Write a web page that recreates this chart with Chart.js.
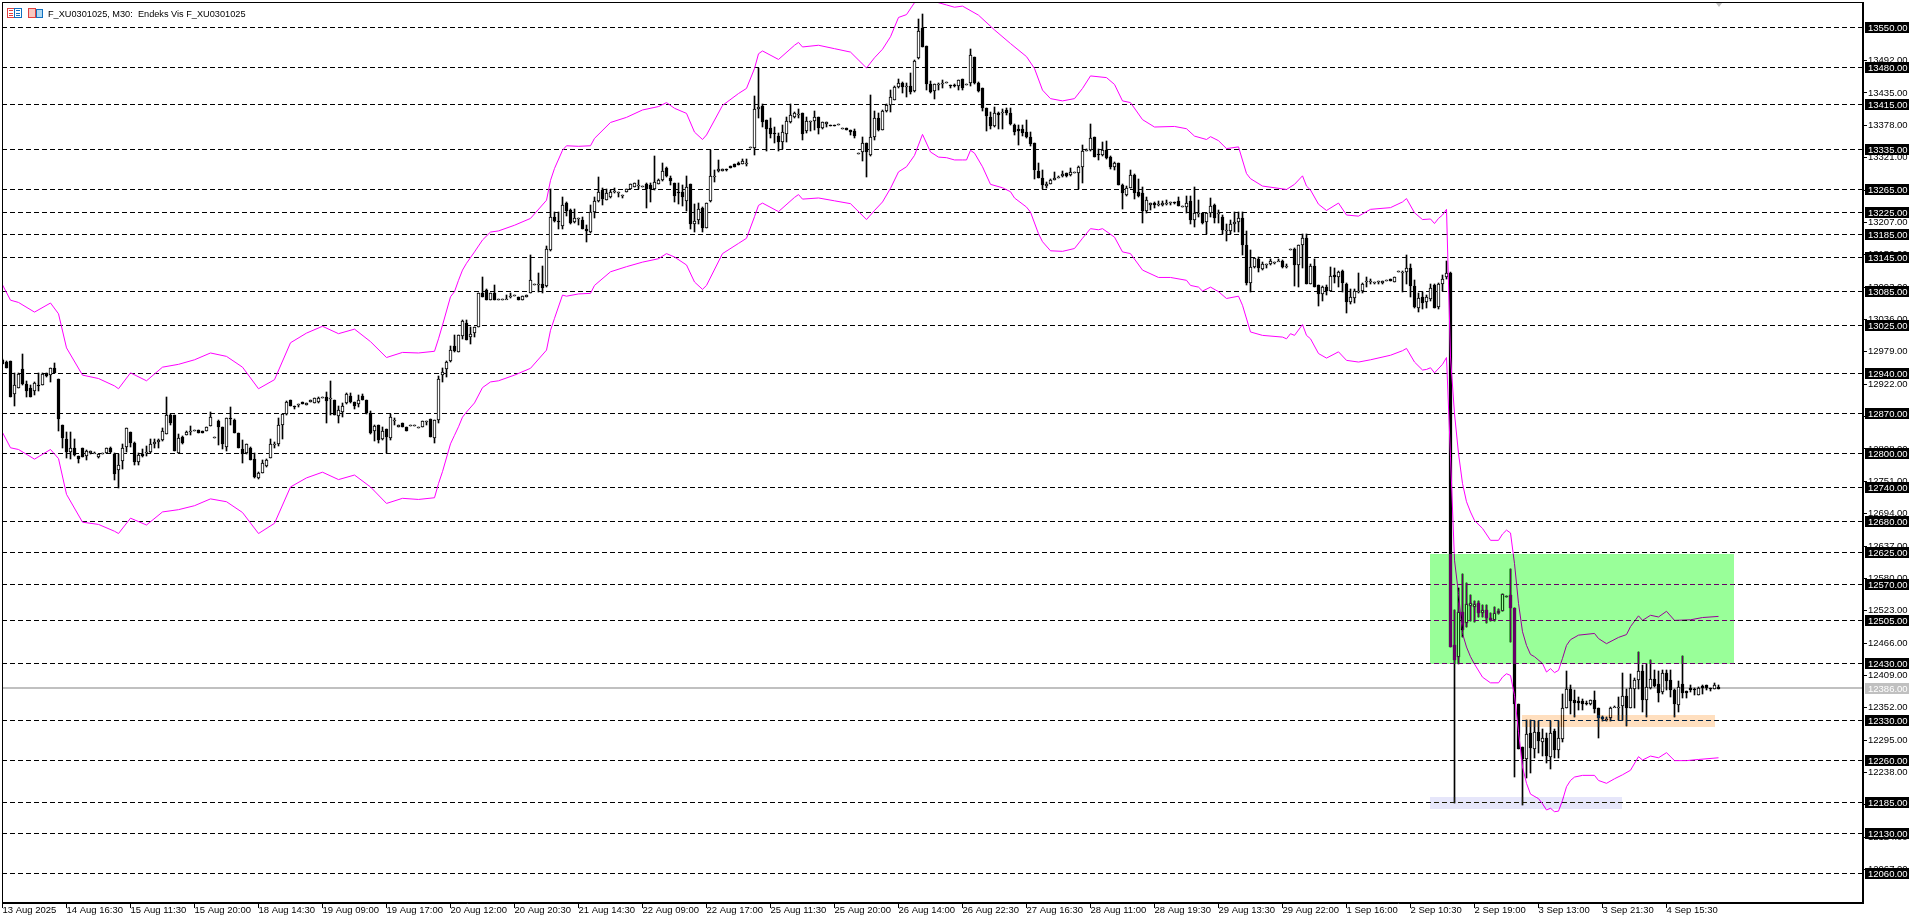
<!DOCTYPE html>
<html>
<head>
<meta charset="utf-8">
<title>F_XU0301025, M30</title>
<script src="https://cdn.jsdelivr.net/npm/chart.js@4"></script>
<style>
  html, body { margin: 0; padding: 0; background: #fff; overflow: hidden; }
  canvas { display: block; }
</style>
</head>
<body>
<canvas id="chart" width="1920" height="923"></canvas>
<script>
const chartTitle = 'F_XU0301025, M30:  Endeks Vis F_XU0301025';

// one label every 16 bars
const timeLabels = ['13 Aug 2025','14 Aug 16:30','15 Aug 11:30','15 Aug 20:00','18 Aug 14:30','19 Aug 09:00','19 Aug 17:00','20 Aug 12:00','20 Aug 20:30','21 Aug 14:30','22 Aug 09:00','22 Aug 17:00','25 Aug 11:30','25 Aug 20:00','26 Aug 14:00','26 Aug 22:30','27 Aug 16:30','28 Aug 11:00','28 Aug 19:30','29 Aug 13:30','29 Aug 22:00','1 Sep 16:00','2 Sep 10:30','2 Sep 19:00','3 Sep 13:00','3 Sep 21:30','4 Sep 15:30'];

const priceTicks = [13492,13435,13378,13321,13264,13207,13150,13093,13036,12979,12922,12865,12808,12751,12694,12637,12580,12523,12466,12409,12352,12295,12238,12181,12124,12067];
const levels = [13550,13480,13415,13335,13265,13225,13185,13145,13085,13025,12940,12870,12800,12740,12680,12625,12570,12505,12430,12330,12260,12185,12130,12060];
const lastPrice = 12386;

const opens = [
12965,12961,12963,12905,12916,12948,12923,12915,12910,12921,
12921,12941,12938,12950,12932,12851,12825,12802,12810,12795,
12809,12796,12800,12801,12793,12800,12800,12809,12799,12770,
12787,12811,12837,12818,12785,12799,12803,12803,12817,12821,
12823,12835,12867,12867,12800,12829,12833,12839,12842,12842,
12839,12840,12849,12829,12857,12847,12812,12863,12859,12836,
12807,12800,12810,12791,12756,12766,12778,12792,12816,12816,
12850,12869,12894,12883,12888,12890,12886,12891,12889,12890,
12900,12900,12897,12895,12866,12873,12889,12901,12890,12887,
12902,12894,12871,12839,12851,12825,12843,12827,12859,12846,
12853,12846,12851,12851,12847,12846,12857,12860,12827,12859,
12938,12949,12962,12990,12979,13007,13030,13005,13012,13023,
13083,13088,13070,13082,13072,13072,13072,13078,13079,13076,
13071,13076,13082,13099,13098,13099,13095,13159,13217,13210,
13201,13241,13228,13208,13214,13212,13195,13190,13226,13244,
13264,13247,13251,13263,13261,13255,13261,13265,13270,13273,
13271,13274,13272,13265,13275,13281,13302,13286,13277,13261,
13261,13245,13275,13205,13211,13233,13198,13244,13289,13297,
13298,13301,13307,13309,13311,13310,13312,13339,13338,13406,
13412,13388,13374,13364,13360,13348,13363,13384,13392,13398,
13399,13368,13386,13386,13392,13373,13381,13379,13379,13380,
13374,13374,13369,13368,13330,13331,13346,13325,13357,13390,
13370,13403,13414,13423,13445,13453,13445,13448,13438,13497,
13549,13517,13451,13438,13450,13452,13452,13449,13449,13447,
13459,13450,13453,13498,13453,13443,13408,13392,13377,13399,
13399,13405,13399,13379,13371,13371,13366,13357,13346,13297,
13286,13271,13275,13282,13287,13289,13294,13290,13295,13294,
13304,13334,13334,13357,13327,13325,13335,13322,13305,13311,
13273,13256,13268,13290,13260,13258,13227,13237,13241,13240,
13238,13241,13243,13243,13244,13236,13234,13244,13211,13223,
13223,13207,13224,13238,13224,13216,13193,13191,13204,13208,
13214,13168,13101,13129,13143,13125,13134,13133,13138,13139,
13139,13130,13161,13161,13132,13168,13179,13099,13131,13096,
13080,13094,13087,13115,13111,13122,13099,13066,13074,13086,
13086,13104,13104,13102,13103,13100,13106,13107,13102,13121,
13119,13120,13126,13095,13056,13075,13066,13072,13096,13058,
13099,13110,13118,12462,12441,12521,12502,12531,12529,12536,
12519,12525,12511,12506,12519,12523,12549,12550,12527,12359,
12283,12261,12307,12280,12309,12291,12298,12266,12311,12277,
12297,12352,12385,12365,12364,12364,12361,12358,12365,12351,
12336,12333,12334,12354,12354,12355,12372,12352,12385,12401,
12416,12365,12387,12402,12394,12380,12413,12401,12383,12357,
12394,12381,12387,12386,12374,12390,12392,12387,12386,12388];

const highs = [
12967,12963,12963,12941,12941,12975,12928,12920,12925,12941,
12941,12942,12951,12960,12932,12851,12837,12837,12825,12796,
12809,12806,12805,12802,12799,12800,12809,12812,12800,12799,
12817,12844,12837,12821,12800,12807,12814,12825,12826,12826,
12844,12900,12870,12867,12835,12831,12839,12848,12842,12842,
12839,12847,12873,12829,12859,12847,12862,12882,12860,12836,
12823,12816,12812,12800,12767,12788,12790,12825,12821,12862,
12870,12893,12895,12883,12888,12890,12889,12895,12898,12900,
12900,12908,12927,12895,12884,12889,12906,12906,12891,12903,
12904,12895,12874,12850,12851,12847,12843,12869,12862,12851,
12853,12846,12851,12851,12847,12857,12857,12860,12859,12937,
12950,12963,12989,13009,13009,13035,13035,13023,13023,13082,
13111,13089,13083,13096,13072,13072,13079,13083,13079,13076,
13077,13079,13150,13099,13117,13130,13165,13265,13226,13226,
13252,13243,13230,13230,13214,13216,13202,13237,13252,13287,
13267,13265,13264,13267,13261,13255,13266,13274,13277,13281,
13271,13277,13277,13324,13283,13311,13304,13289,13277,13277,
13273,13289,13275,13239,13242,13234,13242,13335,13299,13317,
13301,13301,13307,13309,13314,13318,13318,13339,13430,13479,
13415,13388,13390,13375,13364,13378,13393,13415,13402,13407,
13400,13393,13386,13403,13393,13384,13384,13379,13379,13380,
13374,13374,13369,13371,13330,13357,13346,13431,13403,13399,
13405,13416,13440,13448,13460,13455,13452,13470,13493,13566,
13574,13517,13456,13450,13452,13457,13455,13449,13450,13457,
13459,13450,13512,13498,13454,13443,13409,13402,13410,13402,
13407,13408,13408,13380,13378,13378,13387,13366,13346,13312,
13299,13278,13283,13295,13289,13298,13294,13302,13295,13306,
13343,13337,13380,13357,13337,13349,13350,13324,13314,13312,
13274,13271,13299,13292,13283,13270,13252,13242,13243,13244,
13244,13246,13243,13243,13251,13236,13253,13253,13270,13246,
13224,13224,13250,13239,13228,13220,13205,13212,13225,13225,
13225,13192,13159,13145,13146,13137,13134,13142,13138,13142,
13140,13134,13161,13162,13168,13186,13186,13133,13142,13097,
13095,13096,13129,13126,13121,13124,13100,13090,13089,13117,
13100,13111,13107,13102,13103,13104,13106,13107,13110,13121,
13121,13149,13133,13106,13082,13085,13079,13099,13098,13100,
13114,13139,13120,12525,12563,12587,12571,12550,12540,12540,
12533,12533,12519,12530,12526,12553,12549,12596,12527,12359,
12283,12330,12330,12329,12329,12315,12307,12329,12314,12329,
12376,12417,12393,12383,12371,12367,12364,12366,12381,12352,
12337,12336,12353,12355,12371,12414,12386,12411,12404,12450,
12427,12430,12436,12418,12416,12419,12419,12419,12385,12399,
12444,12381,12392,12387,12388,12392,12393,12387,12395,12393];

const lows = [
12958,12951,12900,12884,12916,12920,12900,12900,12903,12910,
12921,12935,12926,12941,12840,12810,12792,12790,12795,12783,
12793,12788,12799,12800,12792,12800,12800,12800,12753,12740,
12772,12803,12812,12779,12779,12794,12796,12801,12810,12810,
12822,12834,12851,12804,12800,12817,12833,12833,12842,12836,
12836,12840,12849,12829,12815,12807,12804,12851,12836,12809,
12784,12799,12788,12757,12755,12766,12776,12792,12809,12814,
12825,12867,12883,12879,12881,12887,12886,12891,12889,12889,
12900,12854,12867,12867,12854,12864,12888,12889,12878,12882,
12894,12870,12834,12822,12819,12823,12800,12824,12850,12846,
12846,12839,12851,12851,12847,12846,12850,12829,12819,12854,
12926,12934,12961,12979,12979,13002,13000,12993,13005,13023,
13075,13070,13070,13070,13072,13072,13072,13073,13079,13070,
13071,13076,13082,13099,13084,13083,13093,13157,13207,13195,
13195,13218,13204,13206,13202,13195,13173,13189,13215,13243,
13237,13246,13250,13258,13251,13250,13261,13265,13270,13265,
13271,13233,13243,13264,13275,13280,13287,13272,13243,13239,
13235,13227,13196,13190,13205,13190,13197,13243,13278,13296,
13298,13297,13303,13305,13308,13310,13307,13339,13325,13391,
13375,13333,13355,13346,13333,13337,13349,13382,13390,13390,
13353,13365,13368,13369,13362,13371,13375,13376,13376,13378,
13374,13369,13361,13355,13330,13315,13287,13324,13353,13368,
13369,13402,13401,13422,13443,13435,13428,13433,13437,13494,
13516,13441,13435,13425,13441,13444,13452,13444,13445,13440,
13440,13450,13448,13451,13437,13403,13368,13371,13375,13372,
13371,13396,13378,13361,13344,13359,13355,13342,13284,13285,
13265,13268,13274,13281,13285,13287,13287,13289,13295,13265,
13277,13333,13333,13322,13317,13324,13319,13301,13300,13272,
13231,13253,13267,13249,13252,13206,13224,13228,13233,13235,
13235,13237,13237,13239,13235,13236,13224,13204,13199,13217,
13205,13186,13216,13206,13206,13186,13174,13187,13190,13190,
13149,13096,13085,13127,13120,13124,13127,13132,13133,13139,
13126,13126,13161,13095,13093,13126,13099,13098,13093,13060,
13069,13079,13086,13100,13093,13085,13048,13064,13065,13082,
13082,13093,13099,13099,13099,13099,13103,13103,13102,13121,
13085,13098,13075,13057,13049,13054,13057,13069,13056,13054,
13086,13108,12459,12184,12430,12476,12494,12505,12503,12512,
12512,12502,12505,12505,12518,12522,12549,12468,12230,12280,
12180,12229,12238,12264,12272,12268,12254,12245,12263,12263,
12292,12351,12341,12336,12348,12348,12357,12357,12342,12299,
12329,12329,12329,12353,12330,12330,12320,12351,12351,12385,
12344,12335,12385,12388,12363,12377,12384,12371,12336,12344,
12370,12370,12380,12374,12374,12376,12384,12381,12385,12385];

const closes = [
12958,12951,12900,12921,12940,12923,12910,12900,12924,12920,
12940,12936,12950,12941,12861,12827,12802,12810,12798,12790,
12794,12805,12805,12801,12799,12800,12809,12802,12764,12779,
12810,12844,12818,12785,12797,12796,12803,12816,12821,12824,
12840,12867,12854,12805,12828,12819,12838,12839,12842,12836,
12836,12847,12864,12829,12847,12817,12862,12861,12836,12810,
12799,12816,12789,12758,12766,12784,12789,12816,12816,12851,
12870,12890,12884,12881,12888,12887,12889,12895,12898,12897,
12900,12893,12897,12867,12876,12884,12904,12891,12884,12895,
12895,12871,12836,12848,12823,12840,12829,12865,12859,12851,
12846,12839,12851,12851,12847,12857,12857,12829,12859,12932,
12943,12961,12983,12980,13009,13034,13000,13010,13022,13082,
13075,13070,13083,13070,13072,13072,13072,13078,13079,13070,
13077,13079,13106,13099,13098,13092,13161,13216,13210,13209,
13238,13227,13206,13215,13214,13196,13191,13226,13245,13260,
13248,13259,13260,13263,13261,13255,13266,13274,13277,13273,
13271,13265,13265,13278,13282,13297,13289,13280,13254,13259,
13251,13270,13204,13209,13231,13198,13242,13289,13289,13301,
13301,13299,13303,13305,13308,13316,13312,13339,13406,13411,
13384,13371,13362,13362,13348,13367,13385,13397,13399,13398,
13362,13386,13386,13392,13373,13383,13384,13376,13376,13380,
13374,13369,13366,13359,13330,13346,13331,13357,13390,13370,
13403,13413,13428,13446,13452,13445,13448,13437,13492,13545,
13516,13450,13436,13450,13450,13452,13455,13447,13447,13457,
13443,13450,13502,13452,13439,13408,13394,13376,13400,13397,
13402,13399,13380,13366,13368,13365,13357,13345,13299,13285,
13272,13275,13281,13286,13287,13292,13288,13295,13295,13305,
13332,13334,13356,13322,13325,13335,13321,13304,13311,13273,
13259,13268,13291,13259,13253,13227,13246,13241,13237,13240,
13242,13241,13243,13241,13235,13236,13242,13211,13224,13223,
13206,13223,13235,13215,13224,13193,13193,13205,13208,13214,
13167,13100,13129,13144,13127,13134,13134,13139,13138,13139,
13129,13130,13161,13132,13167,13179,13099,13131,13093,13080,
13093,13086,13113,13111,13119,13101,13066,13075,13087,13086,
13099,13104,13104,13102,13103,13104,13106,13103,13110,13121,
13119,13126,13095,13058,13073,13065,13075,13092,13057,13098,
13108,13117,12459,12437,12521,12489,12534,12536,12534,12519,
12525,12510,12506,12519,12523,12553,12549,12527,12359,12280,
12261,12306,12282,12310,12294,12298,12268,12307,12277,12298,
12352,12386,12364,12361,12361,12358,12358,12365,12350,12334,
12332,12333,12352,12354,12354,12372,12352,12387,12401,12416,
12366,12389,12403,12391,12378,12413,12400,12384,12359,12389,
12378,12378,12384,12383,12387,12387,12387,12385,12393,12386];

// envelope lines, read at the listed bar numbers
const upperBars = [0,2,4,8,12,14,16,20,24,28,29,32,36,40,44,48,52,56,60,64,68,72,76,80,84,88,92,96,100,104,108,109,110,112,113,114,115,116,118,120,122,124,128,132,136,137,138,140,141,144,147,148,152,156,160,164,166,168,171,173,175,176,180,184,186,188,189,190,194,198,199,200,204,208,212,216,218,220,222,224,226,228,230,232,234,236,238,240,244,248,252,256,258,260,262,265,268,270,272,276,278,280,282,285,288,293,296,298,301,302,304,306,309,311,312,315,321,323,325,326,327,329,331,334,336,339,342,347,350,351,353,355,357,358,359,360,361,362,363,364,365,366,367,368,370,372,374,375,376,377,378,379,380,381,382,383,385,386,387,388,389,390,391,392,394,398,399,401,404,406,407,409,410,412,414,416,418,422,425,429];
const upperVals = [13097,13070,13066,13049,13065,13046,12986,12938,12932,12919,12914,12942,12928,12952,12957,12965,12977,12971,12952,12914,12930,12995,13012,13024,13011,13019,12997,12969,12978,12977,12980,13002,13026,13076,13085,13105,13123,13135,13155,13176,13190,13192,13202,13214,13246,13281,13302,13334,13342,13341,13342,13355,13383,13392,13405,13411,13418,13408,13399,13366,13353,13361,13413,13434,13443,13478,13504,13509,13494,13519,13524,13516,13519,13513,13507,13479,13497,13512,13534,13568,13573,13594,13628,13601,13594,13590,13586,13588,13572,13546,13522,13499,13478,13440,13425,13421,13425,13443,13465,13462,13450,13421,13418,13388,13375,13376,13372,13359,13353,13358,13351,13337,13340,13293,13284,13271,13265,13274,13289,13271,13264,13239,13228,13241,13220,13218,13230,13233,13243,13249,13224,13212,13213,13205,13214,13220,13230,12970,12870,12800,12747,12715,12697,12682,12668,12647,12647,12658,12665,12660,12606,12536,12486,12462,12446,12442,12430,12415,12421,12414,12418,12439,12462,12472,12480,12483,12474,12465,12476,12481,12495,12514,12506,12515,12512,12522,12506,12507,12511,12513];

const lowerBars = [0,2,4,8,12,14,16,20,24,28,29,32,36,40,44,48,52,56,60,64,68,72,76,80,84,88,92,96,100,104,108,109,110,112,113,114,115,116,118,120,122,124,128,132,136,137,138,140,141,144,147,148,152,156,160,164,166,168,171,173,175,176,180,184,186,188,189,190,194,198,199,200,204,208,212,216,218,220,222,224,226,228,230,232,234,236,238,240,241,242,243,245,247,250,252,253,256,257,259,260,262,265,268,270,272,274,275,278,280,282,285,289,292,296,297,299,300,302,304,306,309,310,312,315,320,321,322,323,325,326,327,329,331,334,336,339,342,347,350,351,353,355,356,357,358,360,361,362,363,364,365,366,367,368,370,372,374,375,376,377,378,379,380,381,382,384,385,386,387,388,389,390,391,392,393,395,398,399,401,403,405,407,409,410,412,414,416,418,421,424,429];
const lowerVals = [12837,12810,12807,12790,12807,12791,12728,12679,12675,12663,12659,12686,12674,12697,12701,12708,12720,12715,12696,12659,12677,12741,12757,12767,12754,12762,12741,12712,12721,12719,12722,12747,12768,12817,12832,12847,12864,12873,12889,12916,12926,12928,12938,12950,12982,13017,13038,13079,13077,13081,13082,13096,13120,13129,13137,13143,13152,13146,13132,13102,13089,13096,13152,13170,13179,13217,13237,13241,13226,13251,13256,13248,13250,13245,13240,13212,13228,13243,13267,13296,13305,13325,13362,13331,13322,13321,13317,13317,13317,13334,13329,13305,13274,13268,13261,13250,13234,13225,13187,13173,13157,13156,13161,13179,13196,13194,13196,13181,13155,13152,13123,13110,13110,13105,13096,13093,13086,13093,13085,13073,13077,13061,13014,13008,13005,13002,13011,13008,13027,13008,13002,12976,12968,12979,12964,12961,12965,12973,12981,12985,12961,12947,12948,12951,12942,12957,12969,12794,12612,12553,12483,12459,12442,12429,12406,12396,12396,12406,12412,12409,12374,12310,12248,12219,12200,12192,12183,12172,12175,12169,12170,12189,12213,12224,12230,12233,12233,12224,12219,12227,12234,12242,12266,12260,12267,12264,12273,12259,12259,12261,12264];

// the three shaded zones: first bar, last bar, top price, bottom price
const zoneStart = [356.9, 379.9, 356.9];
const zoneEnd = [432.9, 428, 404.9];
const zoneTop = [12623, 12339, 12195];
const zoneBottom = [12430, 12318, 12174];
const zoneInk = ['#660066', '#002040', '#191905'];

const xMin = -0.125, xMax = 465.125;
const yMax = 13595.2, yMin = 12008.2;
const axisFamily = '"Liberation Sans", sans-serif';
const numFont = '9.5px ' + axisFamily;

const wickData = highs.map((h, i) => ({ x: i, y: [lows[i], h] }));
const bodyData = opens.map((o, i) => ({ x: i, y: [o, closes[i]] }));
const bodyFill = opens.map((o, i) => closes[i] >= o ? '#ffffff' : '#000000');

const levelSets = levels.map(v => ({
    type: 'line',
    data: [{ x: xMin, y: v }, { x: xMax, y: v }],
    borderColor: '#000000',
    borderWidth: 1,
    borderDash: [5, 3],
    pointRadius: 0,
    order: 10,
    snapLine: 0.5
}));

function noAxisPadding(s) {
    s.paddingLeft = s.paddingRight = s.paddingTop = s.paddingBottom = 0;
}

// rounds marks to whole pixels so they stay sharp like the original
const snapPlugin = {
    id: 'snap',
    afterDatasetsUpdate(chart) {
        chart.data.datasets.forEach((ds, n) => {
            const meta = chart.getDatasetMeta(n);
            if (meta.type === 'bar') {
                meta.data.forEach(el => {
                    const top = Math.round(Math.min(el.y, el.base));
                    let bottom = Math.round(Math.max(el.y, el.base));
                    if (bottom <= top) bottom = top + 1;
                    el.y = top;
                    el.base = bottom;
                    el.height = bottom - top;
                });
            } else if (ds.snapLine !== undefined) {
                meta.data.forEach(p => { p.y = Math.floor(p.y) + ds.snapLine; });
            }
        });
    }
};

const paperPlugin = {
    id: 'paper',
    beforeDraw(chart) {
        const c = chart.ctx;
        c.save();
        c.fillStyle = '#ffffff';
        c.fillRect(0, 0, chart.width, chart.height);
        c.restore();
    },
    afterDatasetsDraw(chart) {
        // zones invert what lies under them, like the terminal does
        const c = chart.ctx, sx = chart.scales.x, sy = chart.scales.y;
        c.save();
        c.globalCompositeOperation = 'difference';
        zoneInk.forEach((ink, i) => {
            const x0 = Math.round(sx.getPixelForValue(zoneStart[i]));
            const x1 = Math.round(sx.getPixelForValue(zoneEnd[i]));
            const y0 = Math.round(sy.getPixelForValue(zoneTop[i]));
            const y1 = Math.round(sy.getPixelForValue(zoneBottom[i]));
            c.fillStyle = ink;
            c.fillRect(x0, y0, x1 - x0, y1 - y0);
        });
        c.restore();
    },
    afterDraw(chart) {
        const c = chart.ctx, sy = chart.scales.y, sx = chart.scales.x;
        c.save();
        // frame
        c.strokeStyle = '#000000';
        c.lineWidth = 1;
        c.strokeRect(2.5, 2.5, 1860, 900);

        // price boxes on the axis
        c.font = numFont;
        c.textBaseline = 'middle';
        c.textAlign = 'left';
        levels.concat([lastPrice]).forEach(v => {
            const y = Math.floor(sy.getPixelForValue(v));
            c.fillStyle = v === lastPrice ? '#c0c0c0' : '#000000';
            c.fillRect(1865, y - 5, 44, 11);
            c.fillStyle = '#ffffff';
            c.fillText(v.toFixed(2), 1868, y + 1);
        });

        // title and the two little window icons
        c.fillStyle = '#000000';
        c.font = '9.2px ' + axisFamily;
        c.fillText(chartTitle, 48, 14);
        c.strokeStyle = '#e04040';
        c.strokeRect(7.5, 8.5, 7, 9);
        c.strokeRect(28.5, 8.5, 7, 9);
        c.strokeStyle = '#1070c0';
        c.strokeRect(14.5, 8.5, 7, 9);
        c.strokeRect(36.5, 9.5, 6, 8);
        c.fillStyle = '#e04040';
        c.fillRect(9, 10, 4, 1); c.fillRect(9, 13, 4, 1); c.fillRect(9, 15, 4, 1);
        c.fillStyle = '#1070c0';
        c.fillRect(16, 10, 4, 1); c.fillRect(16, 13, 4, 1); c.fillRect(16, 15, 4, 1);
        c.fillStyle = '#f8c8c0';
        c.fillRect(29, 9, 6, 8);
        c.fillStyle = '#b0d8f0';
        c.fillRect(37, 10, 5, 7);

        // grey shift marker on the top edge
        const mx = Math.round(sx.getPixelForValue(429));
        c.fillStyle = '#c0c0c0';
        c.beginPath();
        c.moveTo(mx - 3, 3);
        c.lineTo(mx + 3, 3);
        c.lineTo(mx, 7);
        c.fill();
        c.restore();
    }
};

new Chart(document.getElementById('chart').getContext('2d'), {
    type: 'bar',
    data: {
        datasets: [
            ...levelSets,
            {
                type: 'line',
                data: [{ x: xMin, y: lastPrice }, { x: xMax, y: lastPrice }],
                borderColor: '#c0c0c0',
                borderWidth: 2,
                pointRadius: 0,
                order: 9,
                snapLine: 0
            },
            {
                data: wickData,
                backgroundColor: '#000000',
                barThickness: 1,
                grouped: false,
                order: 3
            },
            {
                data: bodyData,
                backgroundColor: bodyFill,
                borderColor: '#000000',
                borderWidth: 1,
                borderSkipped: false,
                barThickness: 3,
                grouped: false,
                order: 2
            },
            {
                type: 'line',
                data: upperBars.map((b, i) => ({ x: b, y: upperVals[i] })),
                borderColor: '#ff00ff',
                borderWidth: 1,
                pointRadius: 0,
                order: 1
            },
            {
                type: 'line',
                data: lowerBars.map((b, i) => ({ x: b, y: lowerVals[i] })),
                borderColor: '#ff00ff',
                borderWidth: 1,
                pointRadius: 0,
                order: 1
            }
        ]
    },
    options: {
        responsive: false,
        animation: false,
        layout: { autoPadding: false, padding: { left: 2, top: 2 } },
        plugins: { legend: { display: false }, tooltip: { enabled: false } },
        scales: {
            x: {
                type: 'linear',
                offset: false,
                min: xMin,
                max: xMax,
                afterFit(s) { s.height = 20; noAxisPadding(s); },
                afterBuildTicks(s) { s.ticks = timeLabels.map((_, i) => ({ value: i * 16 })); },
                grid: { offset: false, drawOnChartArea: false, tickLength: 5, tickColor: '#000000' },
                border: { color: '#000000' },
                ticks: {
                    autoSkip: false,
                    maxRotation: 0,
                    align: 'start',
                    padding: -3,
                    color: '#000000',
                    font: { family: axisFamily, size: 9.5 },
                    callback: v => timeLabels[v / 16]
                }
            },
            y: {
                position: 'right',
                min: yMin,
                max: yMax,
                afterFit(s) { s.width = 57; noAxisPadding(s); },
                afterBuildTicks(s) { s.ticks = priceTicks.map(v => ({ value: v })); },
                grid: { drawOnChartArea: false, tickLength: 4, tickColor: '#000000' },
                border: { color: '#000000' },
                ticks: {
                    autoSkip: false,
                    padding: 1,
                    color: '#000000',
                    font: { family: axisFamily, size: 9.5 },
                    callback: v => v.toFixed(2)
                }
            }
        }
    },
    plugins: [snapPlugin, paperPlugin]
});
</script>
</body>
</html>
